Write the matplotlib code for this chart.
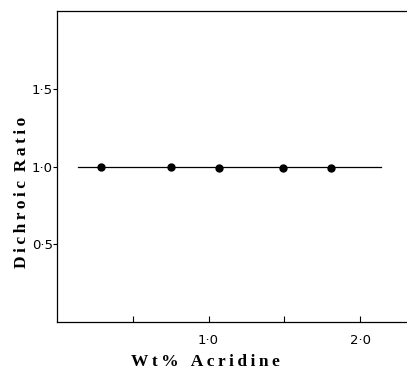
# dichroic ratio vs acridine content
import matplotlib
matplotlib.use("Agg")
import matplotlib.pyplot as plt

# data
wt_acridine = [0.29, 0.755, 1.07, 1.49, 1.81]
dichroic = [1.0, 1.0, 0.99, 0.99, 0.99]
fit_x = [0.14, 2.14]
fit_y = [1.0, 1.0]

x_ticks = [0.5, 1.0, 1.5, 2.0]
x_labels = ["", "1·0", "", "2·0"]
y_ticks = [0.5, 1.0, 1.5]
y_labels = ["0·5", "1·0", "1·5"]

fig = plt.figure(figsize=(4.07, 3.69), dpi=100)
ax = fig.add_axes([57/407, 1 - 322/369, 1 - 57/407, 311/369])

ax.plot(fit_x, fit_y, color="black", lw=0.9)
ax.plot(wt_acridine, dichroic, "o", color="black", markersize=5)

ax.set_xlim(0, 2.31)
ax.set_ylim(0, 2.0)
ax.spines["right"].set_visible(False)
for s in ["left", "top", "bottom"]:
    ax.spines[s].set_linewidth(0.9)

ax.set_xticks(x_ticks)
ax.set_xticklabels(x_labels, fontsize=9.5, family="DejaVu Sans")
ax.set_yticks(y_ticks)
ax.set_yticklabels(y_labels, fontsize=9.5, family="DejaVu Sans")
ax.tick_params(axis="x", direction="in", length=4, width=0.8, pad=9)
ax.tick_params(axis="y", direction="out", length=3, width=0.8, pad=0)


def spaced(s):
    return "\u2009".join(s)


fig.text(205/407, 1 - 362/369, spaced("Wt%") + "   " + spaced("Acridine"), ha="center",
         va="center", fontsize=12.5, fontweight="bold", family="Liberation Serif")
fig.text(22/407, 1 - 192/369, spaced("Dichroic") + "  " + spaced("Ratio"), ha="center",
         va="center", rotation=90, fontsize=12.5, fontweight="bold", family="Liberation Serif")

fig.savefig("out.png", dpi=100)
